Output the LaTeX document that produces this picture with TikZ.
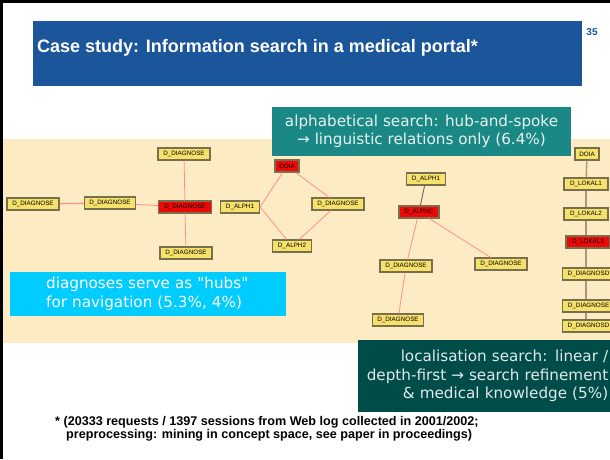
\documentclass[tikz,border=0pt]{standalone}
\usepackage{fontspec}
\setmainfont{Liberation Sans}
\newfontfamily\verdfont{DejaVu Sans}
\usetikzlibrary{positioning}
\definecolor{slideblue}{HTML}{1B569B}
\definecolor{bandbeige}{HTML}{FDEBC3}
\definecolor{alphteal}{HTML}{1A8884}
\definecolor{hubcyan}{HTML}{00CCFF}
\definecolor{lokteal}{HTML}{004C48}
\definecolor{nodeyellow}{HTML}{F6E16A}
\definecolor{noderim}{HTML}{77704E}
\definecolor{hubred}{HTML}{EE0808}
\definecolor{linkpink}{HTML}{FF8F8F}
\definecolor{chaingrey}{HTML}{A8967C}

\begin{document}
\begin{tikzpicture}[x=1pt, y=-1pt,
    concept/.style={draw=noderim, line width=1.1pt, fill=nodeyellow, inner sep=0pt,
                 minimum height=12pt, font=\fontsize{6.3}{7}\selectfont},
    hit/.style={concept, fill=hubred},
    link/.style={linkpink, line width=0.8pt},
    chain/.style={chaingrey, line width=1.4pt},
    callout/.style={inner ysep=0pt, font=\verdfont\fontsize{15.2}{18.5}\selectfont},
]
    \useasboundingbox (0,0) rectangle (610,459);
    \clip (0,0) rectangle (610,459);

    % Slide frame and title
    \fill[black] (0,0) rectangle (3,459);
    \fill[black] (0,0) rectangle (610,2.5);
    \fill[slideblue] (33,21) rectangle (582,86);
    \node[anchor=base west, inner sep=0pt, text=white, font=\bfseries\fontsize{18}{20}\selectfont]
        (title) at (37,52) {Case study: Information search in a medical portal*};
    \node[inner sep=0pt, text=slideblue, font=\bfseries\fontsize{10}{12}\selectfont]
        (pagenum) at (592,32) {35};

    % Graph background
    \fill[bandbeige] (3,139) rectangle (610,343);

    % Diagnose hub
    \node[concept, minimum width=52pt] (dtop) at (184,154) {D\_DIAGNOSE};
    \node[concept, minimum width=52pt] (dleft) at (33,204) {D\_DIAGNOSE};
    \node[concept, minimum width=51pt] (dmid) at (110,203) {D\_DIAGNOSE};
    \node[hit, minimum width=53pt] (dhub) at (185,207) {D\_DIAGNOSE};
    \node[concept, minimum width=52pt] (dbot) at (186,253) {D\_DIAGNOSE};

    % Alphabetical diamond
    \node[hit, minimum width=24pt] (doiaa) at (287,166) {DOIA};
    \node[concept, minimum width=39pt] (alpha) at (240,207) {D\_ALPH1};
    \node[concept, minimum width=52pt] (diaga) at (338,204) {D\_DIAGNOSE};
    \node[concept, minimum width=39pt] (alphb) at (292,246) {D\_ALPH2};

    % Second alphabetical tree
    \node[concept, minimum width=39pt] (alphc) at (426,179) {D\_ALPH1};
    \node[hit, minimum width=40pt] (alphhub) at (419,212) {D\_ALPHC};
    \node[concept, minimum width=52pt] (diagb) at (406,266) {D\_DIAGNOSE};
    \node[concept, minimum width=52pt] (diagc) at (501,264) {D\_DIAGNOSE};
    \node[concept, minimum width=51pt] (diagd) at (398,320) {D\_DIAGNOSE};

    % Localisation chain
    \node[concept, minimum width=24pt] (doiab) at (587,154) {DOIA};
    \node[concept, minimum width=44pt] (lok1) at (586,184) {D\_LOKAL1};
    \node[concept, minimum width=44pt] (lok2) at (586,214) {D\_LOKAL2};
    \node[hit, minimum width=44pt] (lok3) at (588,242) {D\_LOKAL3};
    \node[concept, minimum width=52pt, anchor=west] (lokd1) at (562,274) {D\_DIAGNOSD};
    \node[concept, minimum width=52pt, anchor=west] (lokd2) at (562,306) {D\_DIAGNOSE};
    \node[concept, minimum width=52pt, anchor=west] (lokd3) at (562,326) {D\_DIAGNOSD};

    \draw[link, line width=1.3pt] (dleft) -- (dmid);
    \draw[link] (dmid) -- (dhub);
    \draw[link] (dtop) -- (dhub);
    \draw[link] (dhub) -- (dbot);
    \draw[link] (doiaa) -- (alpha.east);
    \draw[link] (doiaa) -- (diaga);
    \draw[link] (alpha.east) -- (alphb);
    \draw[link] (diaga) -- (alphb);
    \draw[gray!80!black, line width=0.9pt] (alphc) -- (alphhub);
    \draw[link] (alphhub) -- (diagb);
    \draw[link] (alphhub) -- (diagc);
    \draw[link] (diagb) -- (diagd);
    \draw[chain] (doiab) -- (lok1);
    \draw[chain] (lok1) -- (lok2);
    \draw[chain] (lok2) -- (lok3.north -| lok2.south);
    \draw[chain] (lok3.south -| lok2.south) -- (lokd1.north -| lok2.south);
    \draw[chain] (lokd1.south -| lok2.south) -- (lokd2.north -| lok2.south);
    \draw[chain] (lokd2.south -| lok2.south) -- (lokd3.north -| lok2.south);

    % Annotations
    \node[callout, fill=alphteal, text=white!90!alphteal, minimum width=299pt, minimum height=49pt,
          align=center] (alphnote) at (421.5,131.5)
        {alphabetical search: hub-and-spoke\\→ linguistic relations only (6.4\%)};
    \node[callout, fill=hubcyan, text=white, text width=204pt, inner xsep=36pt,
          minimum height=44pt, align=left, anchor=west] (hubnote) at (10,294)
        {diagnoses serve as "hubs"\\for navigation (5.3\%, 4\%)};
    \node[callout, fill=lokteal, text=white!88!lokteal, text width=248pt, inner xsep=2pt,
          minimum height=72pt, align=right, anchor=west] (loknote) at (358,376)
        {localisation search: linear /\\depth-first → search refinement\\\& medical knowledge (5\%)};

    % Footnote
    \node[anchor=base west, inner sep=0pt, font=\bfseries\fontsize{12.6}{14}\selectfont]
        (foot1) at (55,425) {* (20333 requests / 1397 sessions from Web log collected in 2001/2002;};
    \node[anchor=base west, inner sep=0pt, font=\bfseries\fontsize{12.6}{14}\selectfont]
        (foot2) at (66,438) {preprocessing: mining in concept space, see paper in proceedings)};
\end{tikzpicture}
\end{document}
